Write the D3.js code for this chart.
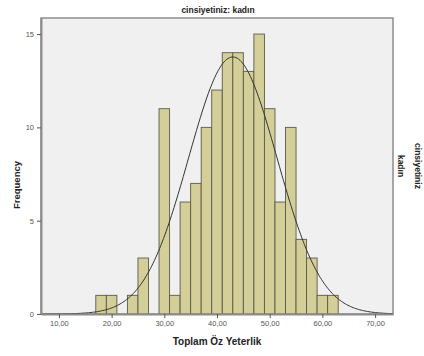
<!DOCTYPE html>
<html>
<head>
<meta charset="utf-8">
<script src="https://cdn.jsdelivr.net/npm/d3@7"></script>
<style>
  body { margin: 0; background: #fff; }
  svg { display: block; font-family: "Liberation Sans", Arial, sans-serif; }
</style>
</head>
<body>
<svg id="chart" width="424" height="356"></svg>
<script>
// bin edges (width 2) and counts
const binStarts = [17, 19, 21, 23, 25, 27, 29, 31, 33, 35, 37, 39, 41, 43, 45, 47, 49, 51, 53, 55, 57, 59, 61];
const counts    = [ 1,  1,  0,  1,  3,  0, 11,  1,  6,  7, 10, 12, 14, 14, 13, 15, 11,  6, 10,  4,  3,  1,  1];
const binWidth = 2;
const xTicks = [10, 20, 30, 40, 50, 60, 70];
const yTicks = [0, 5, 10, 15];
// normal curve parameters
const mean = 43.0;
const sd = 8.4;

const svg = d3.select("#chart");
const plotL = 41, plotR = 393, plotT = 18, plotB = 314;

const x = d3.scaleLinear().domain([6.6, 73.4]).range([plotL, plotR]);
const y = d3.scaleLinear().domain([0, 15.86]).range([plotB, plotT]);

// plot background
svg.append("rect")
  .attr("x", plotL).attr("y", plotT)
  .attr("width", plotR - plotL).attr("height", plotB - plotT)
  .attr("fill", "#f0f0f0")
  .attr("stroke", "#8c8c8c")
  .attr("stroke-width", 1.5);

// bars
const bins = binStarts.map((b, i) => ({ x0: b, n: counts[i] })).filter(d => d.n > 0);
svg.selectAll("rect.bar")
  .data(bins)
  .enter()
  .append("rect")
  .attr("class", "bar")
  .attr("x", d => x(d.x0))
  .attr("y", d => y(d.n))
  .attr("width", d => x(d.x0 + binWidth) - x(d.x0))
  .attr("height", d => y(0) - y(d.n))
  .attr("fill", "#d4cf98")
  .attr("stroke", "#5a5a4a")
  .attr("stroke-width", 0.9);

// normal curve
const total = d3.sum(counts);
const pdf = v => total * binWidth / (sd * Math.sqrt(2 * Math.PI)) * Math.exp(-0.5 * ((v - mean) / sd) ** 2);
const xs = d3.range(6.6, 73.4, 0.25);
svg.append("path")
  .datum(xs)
  .attr("fill", "none")
  .attr("stroke", "#333")
  .attr("stroke-width", 1)
  .attr("d", d3.line().x(d => x(d)).y(d => y(pdf(d))));

// axes
const xAxis = svg.append("g")
  .attr("transform", `translate(0,${plotB})`)
  .call(d3.axisBottom(x).tickValues(xTicks).tickSize(4).tickSizeOuter(0)
    .tickFormat(d => d3.format(".2f")(d).replace(".", ",")));
const yAxis = svg.append("g")
  .attr("transform", `translate(${plotL},0)`)
  .call(d3.axisLeft(y).tickValues(yTicks).tickSize(4).tickSizeOuter(0));

[xAxis, yAxis].forEach(g => {
  g.select(".domain").attr("stroke", "#8c8c8c").attr("stroke-width", 2);
  g.selectAll(".tick line").attr("stroke", "#555");
  g.selectAll(".tick text").attr("fill", "#555").attr("font-size", 7.5);
});

// titles
svg.append("text")
  .attr("x", 218).attr("y", 13)
  .attr("text-anchor", "middle")
  .attr("font-size", 8.5).attr("font-weight", "bold").attr("fill", "#222")
  .text("cinsiyetiniz: kadın");

svg.append("text")
  .attr("x", 217).attr("y", 345)
  .attr("text-anchor", "middle")
  .attr("font-size", 10).attr("font-weight", "bold").attr("fill", "#222")
  .text("Toplam Öz Yeterlik");

svg.append("text")
  .attr("transform", "translate(20,185) rotate(-90)")
  .attr("text-anchor", "middle")
  .attr("font-size", 9.5).attr("font-weight", "bold").attr("fill", "#222")
  .text("Frequency");

// panel label on the right side
svg.append("text")
  .attr("transform", "translate(398,166) rotate(90)")
  .attr("text-anchor", "middle")
  .attr("font-size", 8.5).attr("font-weight", "bold").attr("fill", "#222")
  .text("kadın");
svg.append("text")
  .attr("transform", "translate(415,166) rotate(90)")
  .attr("text-anchor", "middle")
  .attr("font-size", 8.5).attr("font-weight", "bold").attr("fill", "#222")
  .text("cinsiyetiniz");
</script>
</body>
</html>
